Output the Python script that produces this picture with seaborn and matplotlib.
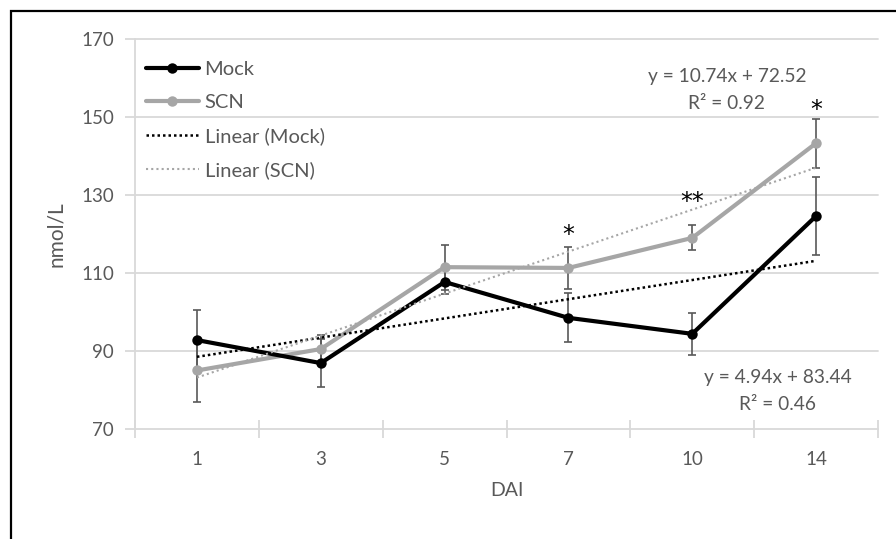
import numpy as np
import pandas as pd
import matplotlib
matplotlib.use("Agg")
import matplotlib.pyplot as plt
import seaborn as sns
from matplotlib.patches import Rectangle

# ---- data ----
dai_labels = ["1", "3", "5", "7", "10", "14"]
mock_mean = [92.8, 86.9, 107.7, 98.5, 94.4, 124.6]
mock_err = [7.7, 6.2, 3.0, 6.3, 5.3, 10.0]
scn_mean = [85.0, 90.5, 111.5, 111.3, 119.0, 143.3]
scn_err = [8.0, 3.5, 5.8, 5.4, 3.2, 6.3]
sig_labels = ["", "", "", "*", "**", "*"]
sig_height = [None, None, None, 121.5, 130.0, 153.6]
mock_eq = "y = 4.94x + 83.44\nR² = 0.46"
scn_eq = "y = 10.74x + 72.52\nR² = 0.92"
y_ticks = [70, 90, 110, 130, 150, 170]

sns.set_theme(style="white")
plt.rcParams["font.family"] = ["Lato", "DejaVu Sans"]

TXT = "#595959"
GRID = "#d9d9d9"
GRAY = "#a6a6a6"

idx = np.arange(len(dai_labels))
df = pd.DataFrame({"idx": idx, "mock": mock_mean, "scn": scn_mean})

fig = plt.figure(figsize=(8.96, 5.39), dpi=100)
ax = fig.add_axes([0.1507, 0.2041, 0.9799 - 0.1507, 0.9276 - 0.2041])

# frame around the figure
fig.patches.append(Rectangle((11 / 896, -0.05), 1.2, 0.05 + 1 - 11 / 539,
                             transform=fig.transFigure, fill=False,
                             edgecolor="black", linewidth=1.6, zorder=10))

# grid
ax.set_ylim(70, 170)
ax.set_xlim(-0.5, len(idx) - 0.5)
ax.set_yticks(y_ticks)
for v in y_ticks[1:]:
    ax.axhline(v, color=GRID, lw=1.3, zorder=0, clip_on=False)

# error bars
ax.errorbar(idx, mock_mean, yerr=mock_err, fmt="none", ecolor=TXT,
            elinewidth=1.2, capsize=3.2, capthick=1.2, zorder=2)
ax.errorbar(idx, scn_mean, yerr=scn_err, fmt="none", ecolor=TXT,
            elinewidth=1.2, capsize=3.2, capthick=1.2, zorder=2)

# main lines
sns.lineplot(data=df, x="idx", y="mock", ax=ax, color="black", lw=3,
             marker="o", markersize=7.5, markeredgewidth=0, label="Mock",
             zorder=4)
sns.lineplot(data=df, x="idx", y="scn", ax=ax, color=GRAY, lw=3,
             marker="o", markersize=7.5, markeredgewidth=0, label="SCN",
             zorder=3)

# linear trend lines
sns.regplot(data=df, x="idx", y="mock", ax=ax, scatter=False, ci=None,
            truncate=True, label="Linear (Mock)",
            line_kws=dict(color="black", lw=1.8, ls=(0, (1, 1.2)), zorder=5))
sns.regplot(data=df, x="idx", y="scn", ax=ax, scatter=False, ci=None,
            truncate=True, label="Linear (SCN)",
            line_kws=dict(color=GRAY, lw=1.5, ls=(0, (1, 1.5)), zorder=5))

# significance stars
for i, s in enumerate(sig_labels):
    if s:
        ax.text(i, sig_height[i] - 3.6, s, ha="center", va="baseline",
                fontsize=17, color="black", family="DejaVu Sans")

# equations
ax.text(4.69, 79.8, mock_eq, ha="center", va="center", fontsize=13.8,
        color=TXT, linespacing=1.75)
ax.text(4.28, 156.9, scn_eq, ha="center", va="center", fontsize=13.8,
        color=TXT, linespacing=1.75)

# axes styling
ax.set_xticks(idx)
ax.set_xticklabels(dai_labels)
ax.set_xticks(np.arange(-0.5, len(idx), 1.0), minor=True)
ax.tick_params(axis="x", which="major", length=0, pad=16, labelsize=13.5,
               labelcolor=TXT)
ax.tick_params(axis="x", which="minor", length=13, width=1.3, color=GRID,
               direction="inout", bottom=True)
ax.tick_params(axis="y", which="major", length=7, width=1.3, color=GRID,
               direction="out", left=True, labelsize=13.5, labelcolor=TXT,
               pad=8)
for side in ["top", "right"]:
    ax.spines[side].set_visible(False)
for side in ["left", "bottom"]:
    ax.spines[side].set_color(GRID)
    ax.spines[side].set_linewidth(1.3)

ax.set_xlabel("DAI", fontsize=14, color=TXT, labelpad=10)
ax.set_ylabel("nmol/L", fontsize=15, color=TXT, labelpad=11)

# legend
h, l = ax.get_legend_handles_labels()
order = ["Mock", "SCN", "Linear (Mock)", "Linear (SCN)"]
hh = [h[l.index(o)] for o in order]
leg = ax.legend(hh, order, loc="upper left", bbox_to_anchor=(0.015, 0.945),
                frameon=False, fontsize=14.5, handlelength=2.6,
                labelspacing=0.8, borderpad=0, borderaxespad=0,
                handletextpad=0.3)
for t in leg.get_texts():
    t.set_color(TXT)

fig.savefig("out.png", dpi=100)
